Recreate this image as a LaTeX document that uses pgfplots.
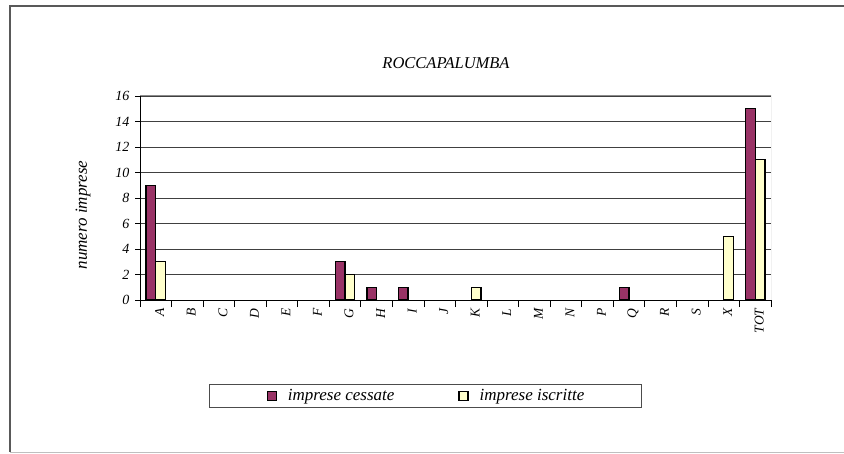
\documentclass[border=0pt]{standalone}
\usepackage{pgfplots}
\pgfplotsset{compat=1.18}
\usepackage{fontspec}
\setmainfont{Liberation Serif}
\definecolor{cess}{HTML}{993366}
\definecolor{iscr}{HTML}{FFFFCC}
\begin{document}
\begin{tikzpicture}
\path[use as bounding box] (0pt,0pt) rectangle (844pt,453pt);
\draw[black!65, line width=1.2pt] (844pt,447pt) -- (10pt,447pt) -- (10pt,1pt);
\draw[black!25, line width=1pt] (10pt,1pt) -- (844pt,1pt);
\node[font=\itshape\fontsize{16.5}{18}\selectfont] at (446pt,390pt) {ROCCAPALUMBA};
\begin{axis}[
  at={(140pt,153pt)}, anchor=south west,
  scale only axis, width=631pt, height=204pt,
  ybar=0pt, bar width=9.6pt,
  xmin=-0.5, xmax=19.5, ymin=0, ymax=16,
  ytick={0,2,...,16},
  xtick={0,...,19},
  xticklabels={A,B,C,D,E,F,G,H,I,J,K,L,M,N,P,Q,R,S,X,TOT},
  minor xtick={-0.5,0.5,...,19.5},
  axis x line*=bottom, axis y line*=left,
  axis line style={black, line width=1pt},
  tick align=outside,
  x tick style={draw=none},
  minor x tick style={draw=black, line width=0.8pt},
  minor tick length=7pt,
  y tick style={black, line width=0.8pt},
  major tick length=5pt,
  ymajorgrids, major grid style={black!75, line width=0.8pt},
  /pgf/number format/assume math mode=true,
  yticklabel style={font=\itshape\fontsize{14}{15}\selectfont, xshift=-2pt},
  xticklabel style={rotate=90, anchor=east, font=\itshape\fontsize{13.5}{15}\selectfont, yshift=-4pt},
  ylabel={numero imprese},
  ylabel style={at={(rel axis cs:-0.0903,0.4167)}, anchor=center, font=\itshape\fontsize{17}{20}\selectfont},
  legend columns=2,
  legend style={at={(rel axis cs:0.4525,-0.4118)}, anchor=north, draw=black!70, line width=0.8pt,
    font=\itshape\fontsize{17}{20}\selectfont, inner xsep=57pt, inner ysep=4pt,
    nodes={inner xsep=0pt, inner ysep=1pt},
    /tikz/every odd column/.append style={column sep=11pt},
    /tikz/every even column/.append style={column sep=64pt}},
  legend image code/.code={\draw[#1, draw=black, line width=1.2pt] (0pt,-4.5pt) rectangle (9pt,4.5pt);},
]
\addplot[fill=cess, draw=black, line width=1.4pt] coordinates {
(0,9) (6,3) (7,1) (8,1) (15,1) (19,15)};
\addplot[fill=iscr, draw=black, line width=1.4pt] coordinates {
(0,3) (6,2) (10,1) (18,5) (19,11)};
\legend{imprese cessate, imprese iscritte}
\draw[black!45, line width=1pt] (rel axis cs:0,1) -- (rel axis cs:1,1) -- (rel axis cs:1,0);
\end{axis}
\end{tikzpicture}
\end{document}
